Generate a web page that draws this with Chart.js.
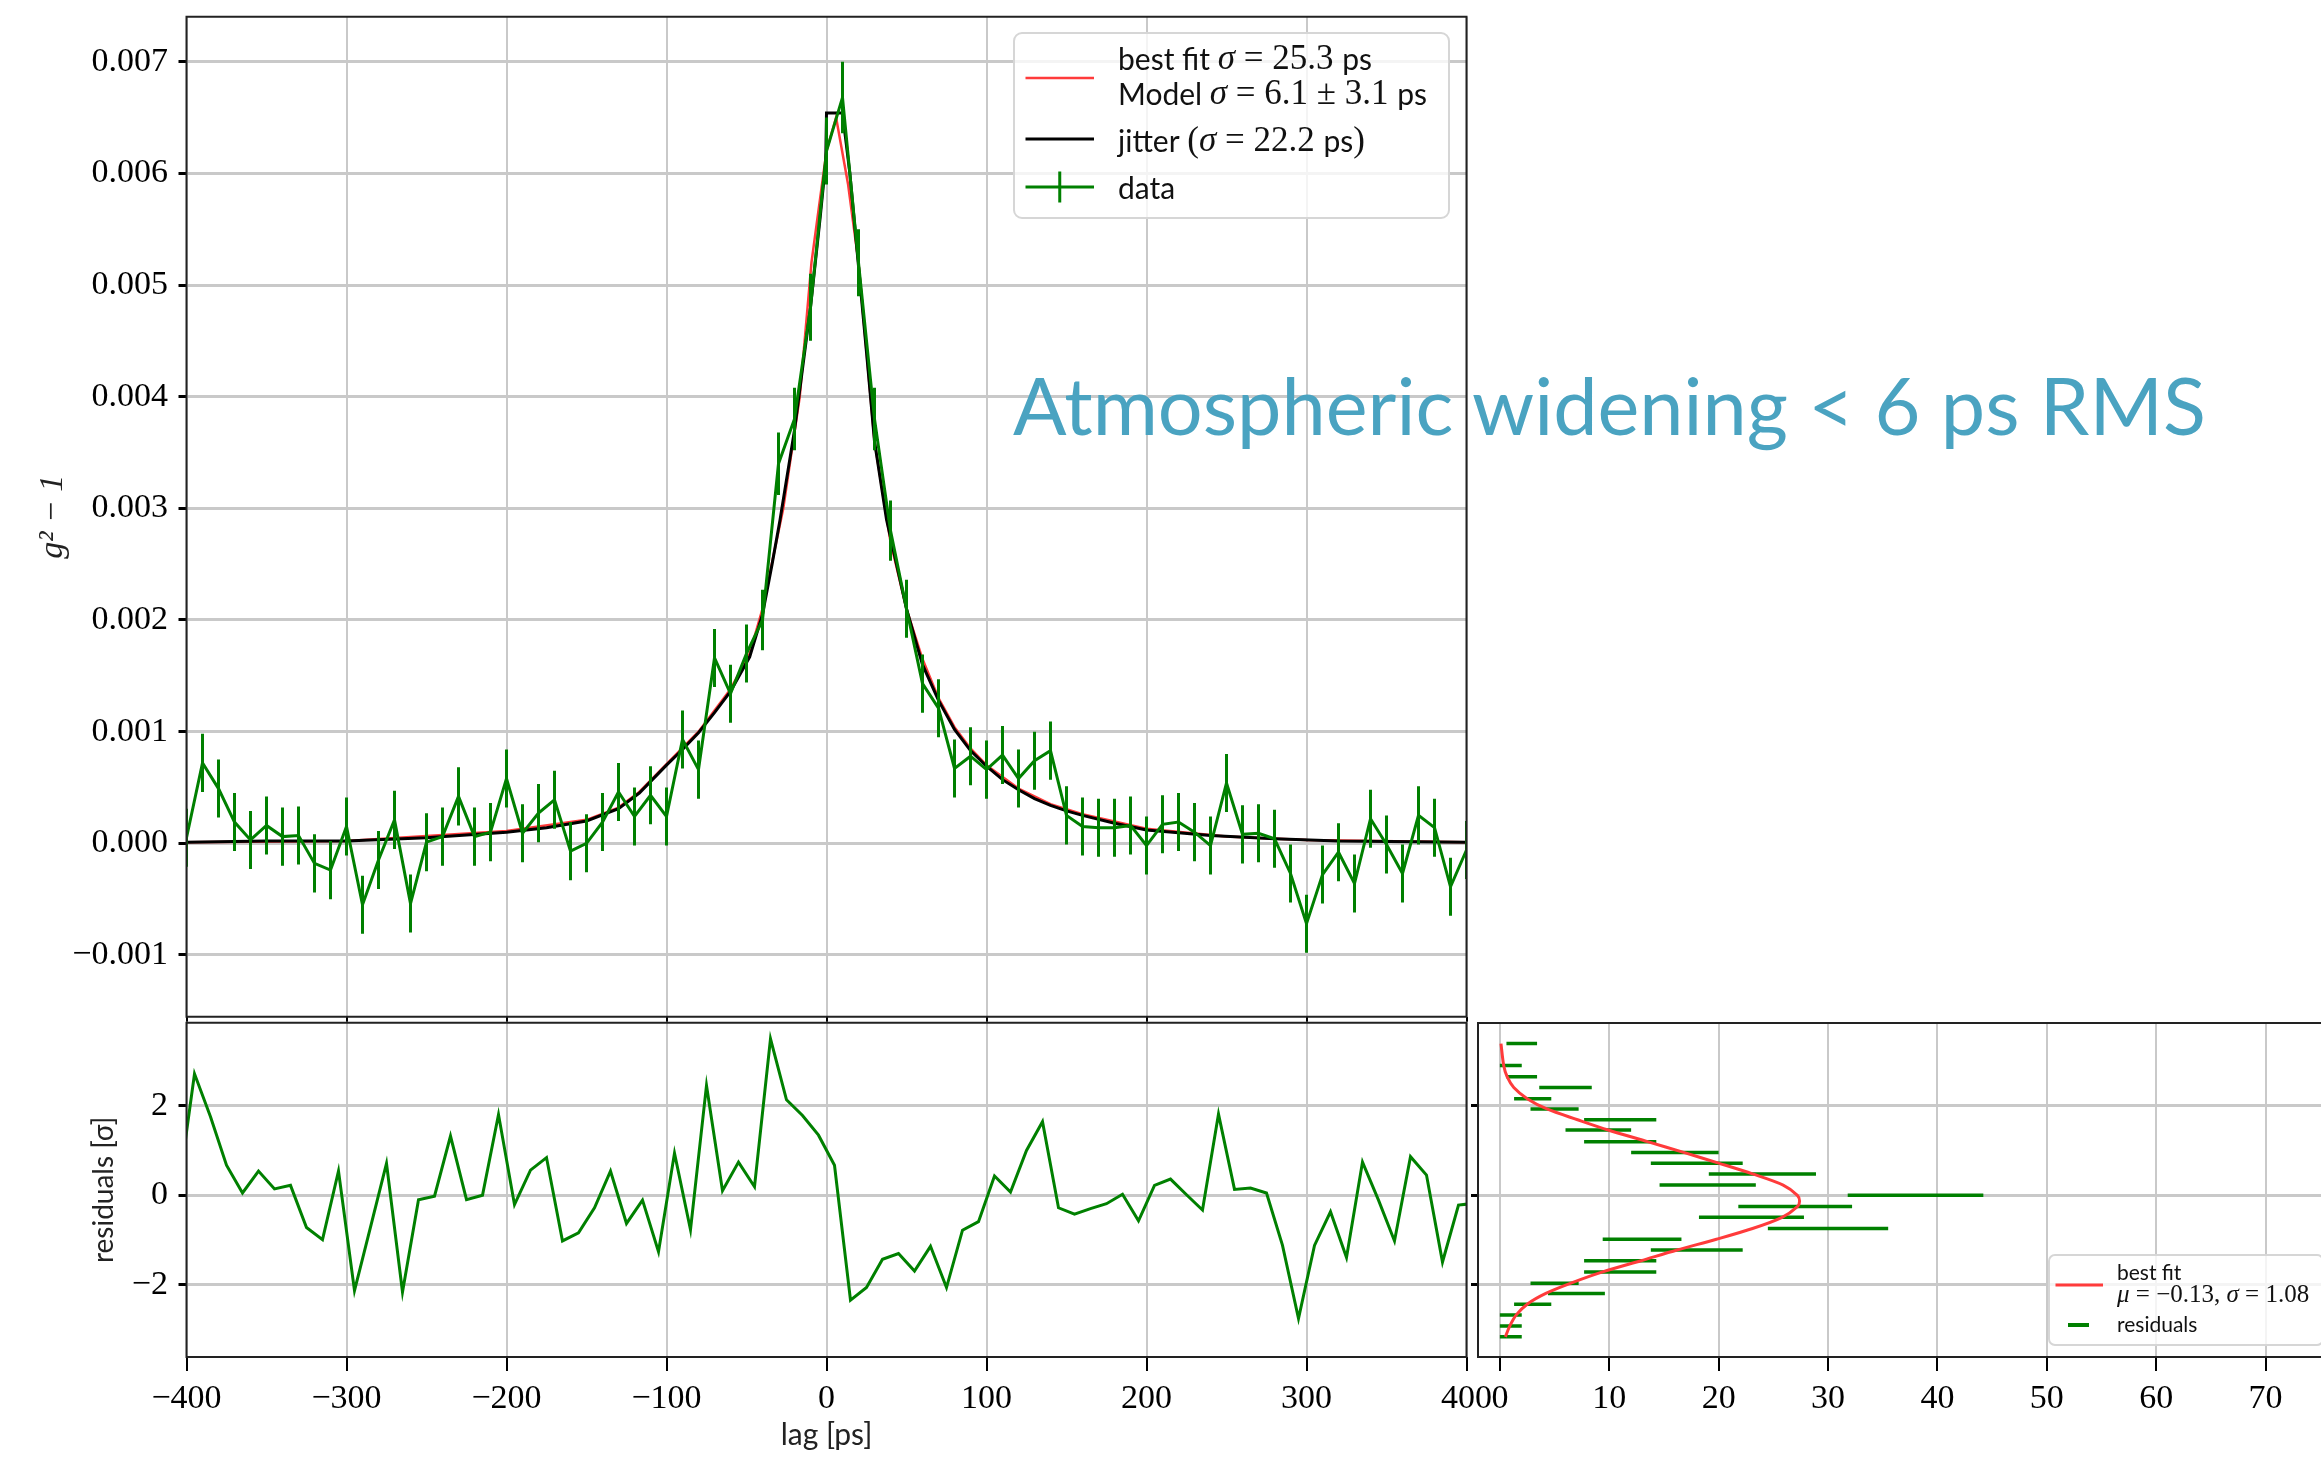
<!DOCTYPE html>
<html lang="es">
<head>
<meta charset="utf-8">
<title>g2 - 1 vs lag</title>
<script src="https://cdn.jsdelivr.net/npm/chart.js@4.4.0/dist/chart.umd.min.js"></script>
<style>
  html, body { margin: 0; padding: 0; background: #fff; overflow: hidden; }
  #lienzo { position: relative; width: 2321px; height: 1458px; }
  canvas { position: absolute; }
  #graficoPrincipal { left: 0; top: 0; }
  #graficoResiduos { left: 0; top: 1000px; }
  #graficoHistograma { left: 1440px; top: 1000px; }
  #textoAtmosfera {
    position: absolute; left: 1013px; top: 364px;
    font-family: Lato, "Open Sans", sans-serif; font-size: 80px; line-height: 80px;
    color: #4aa3c1; white-space: nowrap; transform-origin: 0 0;
  }
</style>
</head>
<body>
<div id="lienzo">
  <canvas id="graficoPrincipal" width="1475" height="1025"></canvas>
  <canvas id="graficoResiduos" width="1520" height="458"></canvas>
  <canvas id="graficoHistograma" width="881" height="458"></canvas>
  <div id="textoAtmosfera">Atmospheric widening &lt; 6 ps RMS</div>
</div>
<script>
// Datos
const retardos = [
  -400, -390, -380, -370, -360, -350, -340, -330, -320, -310,
  -300, -290, -280, -270, -260, -250, -240, -230, -220, -210,
  -200, -190, -180, -170, -160, -150, -140, -130, -120, -110,
  -100, -90, -80, -70, -60, -50, -40, -30, -20, -10,
  0, 10, 20, 30, 40, 50, 60, 70, 80, 90,
  100, 110, 120, 130, 140, 150, 160, 170, 180, 190,
  200, 210, 220, 230, 240, 250, 260, 270, 280, 290,
  300, 310, 320, 330, 340, 350, 360, 370, 380, 390,
  400
];
const g2Datos = [
  0.00005, 0.00072, 0.00049, 0.00019, 0.00003, 0.00016, 0.00006, 0.00007, -0.00018, -0.00024,
  0.00015, -0.00055, -0.00015, 0.00021, -0.00054, 0.00001, 0.00006, 0.00042, 0.00006, 0.0001,
  0.00058, 0.00009, 0.00027, 0.00039, -0.00007, 0.0, 0.00019, 0.00046, 0.00024, 0.00043,
  0.00024, 0.00093, 0.00066, 0.00166, 0.00134, 0.0017, 0.002, 0.0034, 0.0038, 0.0048,
  0.0062, 0.00668, 0.0052, 0.0038, 0.0028, 0.0021, 0.00143, 0.00121, 0.00067, 0.00078,
  0.00066, 0.00079, 0.00058, 0.00074, 0.00083, 0.00025, 0.00015, 0.00014, 0.00014, 0.00016,
  -0.00002, 0.00017, 0.00019, 0.0001, -0.00002, 0.00054, 0.00008, 0.00009, 0.00004, -0.00027,
  -0.00072, -0.00028, -0.00008, -0.00036, 0.00022, -0.00001, -0.00027, 0.00025, 0.00014, -0.00039,
  -0.00006
];
const g2Error = [
  0.00026, 0.00026, 0.00026, 0.00026, 0.00026, 0.00026, 0.00026, 0.00026, 0.00026, 0.00026,
  0.00026, 0.00026, 0.00026, 0.00026, 0.00026, 0.00026, 0.00026, 0.00026, 0.00026, 0.00026,
  0.00026, 0.00026, 0.00026, 0.00026, 0.00026, 0.00026, 0.00026, 0.00026, 0.00026, 0.00026,
  0.00026, 0.00026, 0.00026, 0.00026, 0.00026, 0.00026, 0.00027, 0.00028, 0.00028, 0.0003,
  0.0003, 0.00032, 0.0003, 0.00028, 0.00027, 0.00026, 0.00026, 0.00026, 0.00026, 0.00026,
  0.00026, 0.00026, 0.00026, 0.00026, 0.00026, 0.00026, 0.00026, 0.00026, 0.00026, 0.00026,
  0.00026, 0.00026, 0.00026, 0.00026, 0.00026, 0.00026, 0.00026, 0.00026, 0.00026, 0.00026,
  0.00026, 0.00026, 0.00026, 0.00026, 0.00026, 0.00026, 0.00026, 0.00026, 0.00026, 0.00026,
  0.00026
];

// curva de jitter (negra) y mejor ajuste (roja)
const jitterX = [-400, -350, -300, -250, -200, -175, -150, -130, -117, -100,
  -90, -80, -70, -60, -48, -40, -34, -29, -20, -10,
  -4, -0.5, 0, 10, 14.6, 19.8, 25, 30, 37.5, 50,
  60, 70, 80, 90, 100, 110, 120, 130, 140, 150,
  160, 180, 200, 240, 280, 320, 400];
const jitterY = [0.00001, 0.00002, 0.00002, 0.00005, 0.0001, 0.00014, 0.0002, 0.00031, 0.00045, 0.0007,
  0.00084, 0.00099, 0.00117, 0.00136, 0.00167, 0.00205, 0.0025, 0.0029, 0.0037, 0.0048,
  0.0056, 0.0061, 0.00654, 0.00654, 0.006, 0.0052, 0.0044, 0.0036, 0.0029, 0.0021,
  0.0016, 0.00128, 0.00102, 0.00083, 0.00069, 0.00057, 0.00048, 0.0004, 0.00034, 0.00029,
  0.00025, 0.00018, 0.00012, 0.00007, 0.00004, 0.00002, 0.00001];
const ajusteX = [-400, -300, -200, -150, -130, -117, -100, -80, -60, -48,
  -40, -27, -16.7, -9.4, 0, 6, 13.5, 20, 25, 30,
  40, 50, 60, 70, 80, 90, 100, 120, 140, 160,
  200, 250, 300, 400];
const ajusteY = [0.00001, 0.00002, 0.00011, 0.00021, 0.00032, 0.00046, 0.00071, 0.001, 0.00138, 0.0017,
  0.0021, 0.003, 0.004, 0.0052, 0.0062, 0.0065, 0.0059, 0.0052, 0.0044, 0.0036,
  0.0027, 0.0021, 0.00165, 0.0013, 0.00104, 0.00085, 0.0007, 0.00049, 0.00035, 0.00026,
  0.00013, 0.00006, 0.00003, 0.00001];

// residuos (desplazados 5 ps respecto a los datos)
const residuosX = [
  -405, -395, -385, -375, -365, -355, -345, -335, -325, -315,
  -305, -295, -285, -275, -265, -255, -245, -235, -225, -215,
  -205, -195, -185, -175, -165, -155, -145, -135, -125, -115,
  -105, -95, -85, -75, -65, -55, -45, -35, -25, -15,
  -5, 5, 15, 25, 35, 45, 55, 65, 75, 85,
  95, 105, 115, 125, 135, 145, 155, 165, 175, 185,
  195, 205, 215, 225, 235, 245, 255, 265, 275, 285,
  295, 305, 315, 325, 335, 345, 355, 365, 375, 385,
  395, 405
];
const residuosY = [
  0.11, 2.71, 1.75, 0.67, 0.05, 0.54, 0.14, 0.22, -0.72, -0.99,
  0.54, -2.13, -0.71, 0.71, -2.16, -0.1, -0.02, 1.32, -0.1, 0.0,
  1.8, -0.21, 0.56, 0.84, -1.02, -0.84, -0.28, 0.54, -0.63, -0.11,
  -1.26, 0.94, -0.77, 2.45, 0.1, 0.74, 0.19, 3.49, 2.13, 1.78,
  1.34, 0.67, -2.34, -2.06, -1.43, -1.3, -1.69, -1.14, -2.06, -0.78,
  -0.59, 0.43, 0.07, 1.0, 1.64, -0.28, -0.42, -0.3, -0.19, 0.02,
  -0.57, 0.22, 0.36, 0.01, -0.33, 1.81, 0.13, 0.16, 0.05, -1.12,
  -2.75, -1.12, -0.37, -1.39, 0.74, -0.11, -1.02, 0.86, 0.45, -1.49,
  -0.22, -0.18
];

// histograma de residuos
const binsResiduo = [3.39, 2.90, 2.65, 2.41, 2.16, 1.93, 1.69, 1.46, 1.20, 0.96, 0.72, 0.48, 0.23, 0.00,
  -0.25, -0.49, -0.74, -0.98, -1.22, -1.46, -1.71, -1.96, -2.19, -2.43, -2.67, -2.92, -3.16];
const cuentasResiduo = [2, 1, 2, 6, 3, 5, 11, 9, 11, 16, 18, 24, 19, 38,
  27, 23, 30, 13, 18, 11, 11, 5, 7, 3, 1, 1, 1];
const erroresCuenta = [1.4, 1.0, 1.4, 2.4, 1.7, 2.2, 3.3, 3.0, 3.3, 4.0, 4.2, 4.9, 4.4, 6.2,
  5.2, 4.8, 5.5, 3.6, 4.2, 3.3, 3.3, 2.2, 2.6, 1.7, 1.0, 1.0, 1.0];
const gaussY = [3.39, 2.90, 2.65, 2.41, 2.16, 1.93, 1.69, 1.46, 1.20, 0.96, 0.72, 0.48, 0.23, 0.00, -0.13,
  -0.25, -0.49, -0.74, -0.98, -1.22, -1.46, -1.71, -1.96, -2.19, -2.43, -2.67, -2.92, -3.16];
const gaussX = [0.1, 0.35, 0.66, 1.27, 2.5, 4.3, 7.1, 9.9, 13.5, 16.8, 20.0, 23.1, 25.9, 27.2, 27.4,
  27.2, 25.8, 23.1, 19.8, 16.2, 12.9, 9.4, 6.5, 4.2, 2.5, 1.5, 0.9, 0.5];

// ticks
const ticksLag = [-400, -300, -200, -100, 0, 100, 200, 300, 400];
const etiquetasLag = ['\u2212400', '\u2212300', '\u2212200', '\u2212100', '0', '100', '200', '300', '400'];
const ticksG2 = [-0.001, 0, 0.001, 0.002, 0.003, 0.004, 0.005, 0.006, 0.007];
const etiquetasG2 = ['\u22120.001', '0.000', '0.001', '0.002', '0.003', '0.004', '0.005', '0.006', '0.007'];
const ticksResiduo = [-2, 0, 2];
const etiquetasResiduo = ['\u22122', '0', '2'];
const ticksCuenta = [0, 10, 20, 30, 40, 50, 60, 70];
const etiquetasCuenta = ['0', '10', '20', '30', '40', '50', '60', '70'];

// textos de las leyendas
const leyendaAjuste = [
  [['best fit ', 'sans'], ['\u03c3', 'mathIt'], [' = 25.3 ', 'math'], ['ps', 'sans']],
  [['Model ', 'sans'], ['\u03c3', 'mathIt'], [' = 6.1 \u00b1 3.1 ', 'math'], ['ps', 'sans']]
];
const leyendaJitter = [[['jitter ', 'sans'], ['(', 'math'], ['\u03c3', 'mathIt'], [' = 22.2 ', 'math'], ['ps', 'sans'], [')', 'math']]];
const leyendaDatos = [[['data', 'sans']]];
const leyendaGauss = [[['best fit', 'sans']], [['\u03bc', 'mathIt'], [' = \u22120.13, ', 'math'], ['\u03c3', 'mathIt'], [' = 1.08', 'math']]];
const leyendaResiduos = [[['residuals', 'sans']]];

const verde = '#008000';
const rojo = '#ff3b3b';
const colorRejilla = '#c9c9c9';
const fuenteSerif = '"Liberation Serif", "DejaVu Serif", serif';
const fuenteSans = 'Lato, "Open Sans", sans-serif';

Chart.defaults.font.family = fuenteSans;
Chart.defaults.color = '#111';

function puntos(xs, ys) {
  return xs.map((x, i) => ({ x, y: ys[i] }));
}

// barras de error verticales como segmentos separados por huecos
function barrasVerticales(xs, ys, errores) {
  const salida = [];
  xs.forEach((x, i) => {
    salida.push({ x, y: ys[i] - errores[i] }, { x, y: ys[i] + errores[i] }, { x, y: null });
  });
  return salida;
}

// barras horizontales del histograma (cuenta +- error)
function barrasHorizontales(ys, xs, errores) {
  const salida = [];
  ys.forEach((y, i) => {
    salida.push({ x: xs[i] - errores[i], y }, { x: xs[i] + errores[i], y }, { x: xs[i] + errores[i], y: null });
  });
  return salida;
}

function fijarTicks(valores) {
  return escala => { escala.ticks = valores.map(value => ({ value })); };
}

// tamaño fijo de los ejes, sin el relleno extra que agrega Chart.js por las etiquetas
function anchoFijo(ancho) {
  return e => { e.width = ancho; e.paddingTop = 0; e.paddingBottom = 0; };
}
function altoFijo(alto) {
  return e => { e.height = alto; e.paddingLeft = 0; e.paddingRight = 0; };
}

function rejilla(grosor, largoTick, grosorTick) {
  return { color: colorRejilla, lineWidth: grosor, drawTicks: true, tickLength: largoTick, tickWidth: grosorTick, tickColor: '#000' };
}

const fuenteTicks = { family: fuenteSerif, size: 34 };

// Marco negro alrededor del area del grafico
const pluginMarco = {
  id: 'marco',
  afterDatasetsDraw(chart, args, opciones) {
    const { ctx, chartArea: { left, right, top, bottom } } = chart;
    ctx.save();
    ctx.strokeStyle = '#222';
    ctx.lineWidth = 2;
    ctx.beginPath();
    if (opciones.abierto) {
      ctx.moveTo(right + 2, top);
      ctx.lineTo(left, top);
      ctx.lineTo(left, bottom);
      ctx.lineTo(right + 2, bottom);
    } else {
      ctx.rect(left, top, right - left, bottom - top);
    }
    ctx.stroke();
    ctx.restore();
  }
};

// Leyenda dibujada a mano (texto con partes sans y matematicas)
const pluginLeyenda = {
  id: 'leyendaCaja',
  afterDraw(chart, args, o) {
    if (!o.entradas) return;
    const ctx = chart.ctx;
    const x0 = chart.chartArea.left + o.x;
    const y0 = chart.chartArea.top + o.y;
    ctx.save();
    ctx.fillStyle = 'rgba(255,255,255,0.8)';
    ctx.strokeStyle = '#d6d6d6';
    ctx.lineWidth = 2;
    ctx.beginPath();
    ctx.roundRect(x0, y0, o.ancho, o.alto, o.radio);
    ctx.fill();
    ctx.stroke();
    o.entradas.forEach(e => {
      ctx.strokeStyle = e.color;
      ctx.lineWidth = e.grosor;
      ctx.beginPath();
      ctx.moveTo(x0 + e.muestra[0], y0 + e.y);
      ctx.lineTo(x0 + e.muestra[1], y0 + e.y);
      ctx.stroke();
      if (e.barra) {
        const xm = x0 + (e.muestra[0] + e.muestra[1]) / 2;
        ctx.beginPath();
        ctx.moveTo(xm, y0 + e.y - e.barra);
        ctx.lineTo(xm, y0 + e.y + e.barra);
        ctx.stroke();
      }
      e.lineas.forEach((partes, k) => {
        let x = x0 + e.textoX;
        const y = y0 + e.textoY[k];
        partes.forEach(([texto, estilo]) => {
          ctx.font = o.fuentes[estilo];
          ctx.fillStyle = '#111';
          ctx.textBaseline = 'middle';
          ctx.fillText(texto, x, y);
          x += ctx.measureText(texto).width;
        });
      });
    });
    ctx.restore();
  }
};

const opcionesBase = {
  responsive: false,
  animation: false,
  events: [],
  elements: { point: { radius: 0 }, line: { tension: 0 } }
};

// Grafico principal: g2 - 1 vs retardo
new Chart(document.getElementById('graficoPrincipal'), {
  type: 'line',
  data: {
    datasets: [
      { label: 'data', data: puntos(retardos, g2Datos), borderColor: verde, borderWidth: 3, order: 0 },
      { label: 'barras', data: barrasVerticales(retardos, g2Datos, g2Error), borderColor: verde, borderWidth: 3, spanGaps: false, order: 1 },
      { label: 'jitter', data: puntos(jitterX, jitterY), borderColor: '#000', borderWidth: 3, order: 2 },
      { label: 'best fit', data: puntos(ajusteX, ajusteY), borderColor: rojo, borderWidth: 2.5, order: 3 }
    ]
  },
  options: {
    ...opcionesBase,
    layout: { padding: { top: 16.7, right: 8.5, bottom: 8.3, left: 0 } },
    scales: {
      x: {
        type: 'linear', min: -400, max: 400,
        afterBuildTicks: fijarTicks(ticksLag),
        afterFit: altoFijo(0),
        ticks: { display: false },
        grid: rejilla(2, 5, 2),
        border: { display: false }
      },
      y: {
        type: 'linear', min: -0.001553, max: 0.007403,
        afterBuildTicks: fijarTicks(ticksG2),
        afterFit: anchoFijo(186.5),
        ticks: { font: fuenteTicks, color: '#000', padding: 10.5, autoSkip: false, callback: (v, i) => etiquetasG2[i] },
        grid: rejilla(3, 8, 3),
        border: { display: false },
        title: { display: true, text: 'g\u00b2 \u2212 1', font: { family: fuenteSerif, size: 34, style: 'italic' }, color: '#222', padding: { top: 33, bottom: 0 } }
      }
    },
    plugins: {
      legend: { display: false },
      tooltip: { enabled: false },
      marco: { abierto: false },
      leyendaCaja: {
        x: 827.5, y: 16.3, ancho: 435, alto: 185, radio: 8,
        fuentes: { sans: '30px ' + fuenteSans, math: '35px ' + fuenteSerif, mathIt: 'italic 35px ' + fuenteSerif },
        entradas: [
          { color: rojo, grosor: 2.5, muestra: [11.5, 80], y: 45, textoX: 104, textoY: [27, 62], lineas: leyendaAjuste },
          { color: '#000', grosor: 3, muestra: [11.5, 80], y: 106, textoX: 104, textoY: [109], lineas: leyendaJitter },
          { color: verde, grosor: 3, muestra: [11.5, 80], y: 154, barra: 15.5, textoX: 104, textoY: [156], lineas: leyendaDatos }
        ]
      }
    }
  },
  plugins: [pluginMarco, pluginLeyenda]
});

// Residuos
new Chart(document.getElementById('graficoResiduos'), {
  type: 'line',
  data: {
    datasets: [
      { label: 'residuals', data: puntos(residuosX, residuosY), borderColor: verde, borderWidth: 3 }
    ]
  },
  options: {
    ...opcionesBase,
    layout: { padding: { top: 22.7, right: 53.5, bottom: 0, left: 0 } },
    scales: {
      x: {
        type: 'linear', min: -400, max: 400,
        afterBuildTicks: fijarTicks(ticksLag),
        afterFit: altoFijo(101),
        ticks: { font: fuenteTicks, color: '#000', padding: 8, autoSkip: false, maxRotation: 0, callback: (v, i) => etiquetasLag[i] },
        grid: rejilla(2, 14, 2),
        border: { display: false },
        title: { display: true, text: 'lag [ps]', font: { family: fuenteSans, size: 30 }, color: '#222', padding: { top: 0, bottom: 5 } }
      },
      y: {
        type: 'linear', min: -3.61, max: 3.85,
        afterBuildTicks: fijarTicks(ticksResiduo),
        afterFit: anchoFijo(186.5),
        ticks: { font: fuenteTicks, color: '#000', padding: 10.5, autoSkip: false, callback: (v, i) => etiquetasResiduo[i] },
        grid: rejilla(3, 8, 3),
        border: { display: false },
        title: { display: true, text: 'residuals [\u03c3]', font: { family: fuenteSans, size: 28 }, color: '#222', padding: { top: 87, bottom: 0 } }
      }
    },
    plugins: {
      legend: { display: false },
      tooltip: { enabled: false },
      marco: { abierto: false }
    }
  },
  plugins: [pluginMarco]
});

// Histograma de residuos (horizontal)
new Chart(document.getElementById('graficoHistograma'), {
  type: 'line',
  data: {
    datasets: [
      { label: 'best fit', data: puntos(gaussX, gaussY), borderColor: rojo, borderWidth: 3, tension: 0.3, order: 0 },
      { label: 'residuals', data: barrasHorizontales(binsResiduo, cuentasResiduo, erroresCuenta), borderColor: verde, borderWidth: 3.5, spanGaps: false, order: 1 }
    ]
  },
  options: {
    ...opcionesBase,
    layout: { padding: { top: 23, right: 0, bottom: 0, left: 0 } },
    scales: {
      x: {
        type: 'linear', min: -2.0, max: 75.07,
        afterBuildTicks: fijarTicks(ticksCuenta),
        afterFit: altoFijo(101),
        ticks: { font: fuenteTicks, color: '#000', padding: 8, autoSkip: false, maxRotation: 0, callback: (v, i) => etiquetasCuenta[i] },
        grid: rejilla(2, 14, 2),
        border: { display: false }
      },
      y: {
        type: 'linear', min: -3.61, max: 3.85,
        afterBuildTicks: fijarTicks(ticksResiduo),
        afterFit: anchoFijo(38),
        ticks: { display: false },
        grid: rejilla(3, 7, 3),
        border: { display: false }
      }
    },
    plugins: {
      legend: { display: false },
      tooltip: { enabled: false },
      marco: { abierto: true },
      leyendaCaja: {
        x: 571, y: 232, ancho: 274, alto: 90, radio: 6,
        fuentes: { sans: '21px ' + fuenteSans, math: '25px ' + fuenteSerif, mathIt: 'italic 25px ' + fuenteSerif },
        entradas: [
          { color: rojo, grosor: 3, muestra: [6.5, 54], y: 30, textoX: 68, textoY: [18, 40], lineas: leyendaGauss },
          { color: verde, grosor: 4, muestra: [19, 40], y: 70, textoX: 68, textoY: [70], lineas: leyendaResiduos }
        ]
      }
    }
  },
  plugins: [pluginMarco, pluginLeyenda]
});

// Ajustar el ancho del texto grande al del original
const textoAtmosfera = document.querySelector('#textoAtmosfera');
const anchoTexto = textoAtmosfera.getBoundingClientRect().width;
textoAtmosfera.style.transform = 'scaleX(' + (1193 / anchoTexto) + ')';
</script>
</body>
</html>
